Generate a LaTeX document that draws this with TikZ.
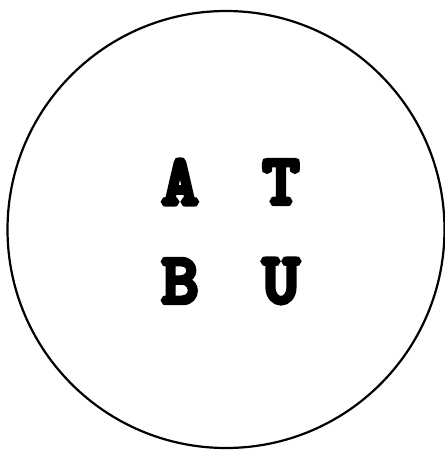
\documentclass[tikz,border=0pt]{standalone}
\usepackage{fontspec}
\newfontfamily\heavyfont[FakeBold=8]{Latin Modern Mono}
\begin{document}
\begin{tikzpicture}[x=1pt,y=-1pt,
  letter/.style={font=\fontsize{70}{70}\selectfont\heavyfont, inner sep=0pt, anchor=center}]
\useasboundingbox (0,0) rectangle (445,451);
\node[draw, circle, line width=2.2pt, minimum size=437pt, inner sep=0pt] (ring) at (226,229.5) {};
\node[letter] (A) at (180,182) {A};
\node[letter] (T) at (281,182) {T};
\node[letter] (B) at (180,281) {B};
\node[letter] (U) at (281,281) {U};
\end{tikzpicture}
\end{document}
